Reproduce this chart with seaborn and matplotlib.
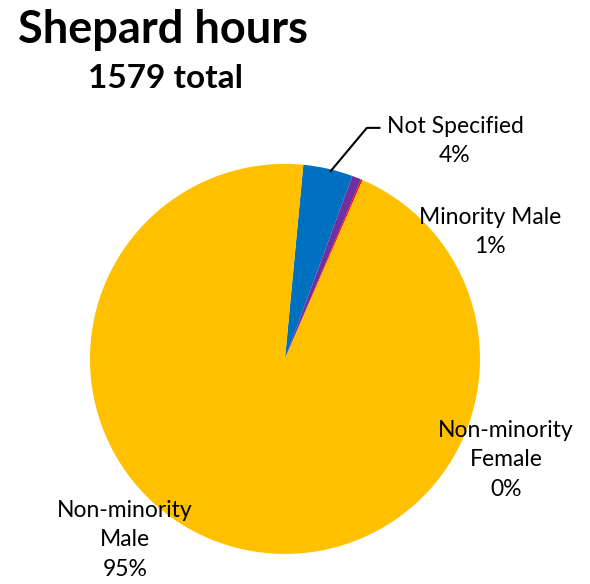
import matplotlib.pyplot as plt
import seaborn as sns

# hours by group (1579 total)
groups = ['Not Specified', 'Minority Male', 'Non-minority Female', 'Non-minority Male']
hours = [65, 12, 2, 1500]
pct_labels = ['4%', '1%', '0%', '95%']
label_text = ['Not Specified', 'Minority Male', 'Non-minority\nFemale', 'Non-minority\nMale']
colors = ['#0070C0', '#7030A0', '#FF0000', '#FFC000']

sns.set_style('white')
plt.rcParams['font.family'] = ['Lato', 'DejaVu Sans']

fig = plt.figure(figsize=(5.9, 5.84), dpi=100)
ax = fig.add_axes([0.1525, 0.0514, 0.661, 0.668])

ax.pie(hours, colors=colors, startangle=84.6, counterclock=False,
       radius=1.0, wedgeprops=dict(linewidth=0))
ax.set_xlim(-1, 1)
ax.set_ylim(-1, 1)
ax.set_aspect('equal')
ax.axis('off')

# label positions around the pie (in pie radius units)
label_pos = [(0.872, 1.118), (1.051, 0.651), (1.133, -0.518), (-0.82, -0.928)]
for txt, pct, (x, y) in zip(label_text, pct_labels, label_pos):
    ax.text(x, y, f'{txt}\n{pct}', ha='center', va='center', fontsize=16.5,
            linespacing=1.48, color='black', clip_on=False)

# leader line for Not Specified
ax.plot([0.231, 0.42, 0.49], [0.959, 1.185, 1.185], color='black', lw=1.5,
        clip_on=False, solid_capstyle='butt')

fig.text(163 / 590, 1 - 30 / 584, 'Shepard hours', ha='center', va='center',
         fontsize=32.5, fontweight='bold', color='black')
fig.text(165 / 590, 1 - 78 / 584, '1579 total', ha='center', va='center',
         fontsize=24, fontweight='bold', color='black')

fig.savefig('out.png', dpi=100)
